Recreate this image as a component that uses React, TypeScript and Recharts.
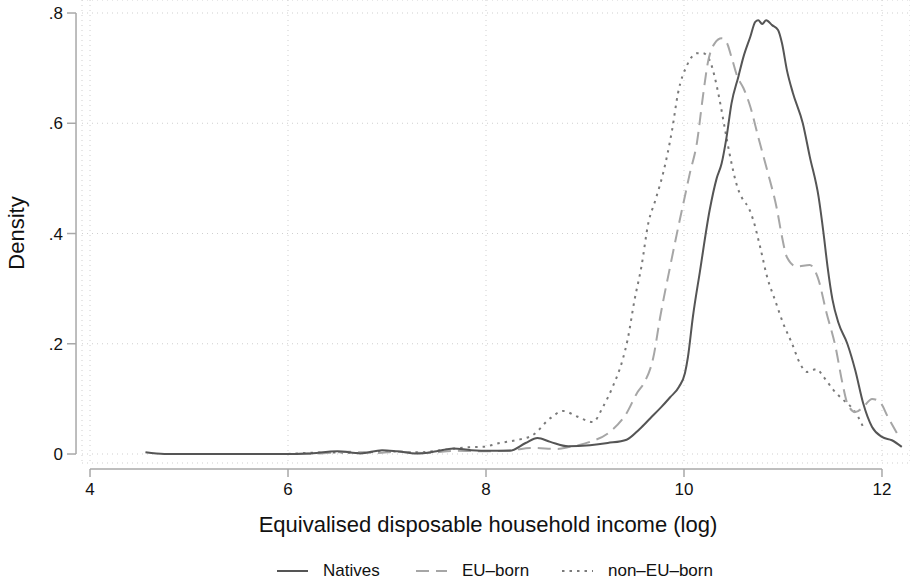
import React from 'react';
import { LineChart, Line, XAxis, YAxis, CartesianGrid, ReferenceLine } from 'recharts';

// kernel density estimates as [log income, density]
const natives: [number, number][] = [
  [4.56, 0.003], [4.75, 0.0], [5.0, 0.0], [5.5, 0.0], [6.0, 0.0], [6.2, 0.001], [6.5, 0.005],
  [6.73, 0.001], [6.95, 0.007], [7.1, 0.005], [7.3, 0.001], [7.5, 0.005], [7.67, 0.01],
  [7.85, 0.007], [8.05, 0.006], [8.24, 0.006], [8.4, 0.02], [8.52, 0.029], [8.65, 0.022],
  [8.83, 0.014], [9.05, 0.016], [9.23, 0.02], [9.42, 0.026], [9.55, 0.045], [9.66, 0.065],
  [9.77, 0.085], [9.86, 0.103], [9.95, 0.122], [10.01, 0.147], [10.04, 0.176], [10.09, 0.249],
  [10.16, 0.33], [10.26, 0.443], [10.33, 0.5], [10.38, 0.527], [10.43, 0.575], [10.48, 0.636],
  [10.55, 0.685], [10.6, 0.72], [10.67, 0.757], [10.72, 0.784], [10.75, 0.787], [10.79, 0.78],
  [10.83, 0.787], [10.89, 0.778], [10.95, 0.769], [10.99, 0.745], [11.04, 0.696], [11.1, 0.655],
  [11.2, 0.6], [11.27, 0.54], [11.36, 0.466], [11.41, 0.4], [11.45, 0.34], [11.5, 0.28],
  [11.56, 0.238], [11.65, 0.2], [11.73, 0.152], [11.81, 0.092], [11.9, 0.049], [12.0, 0.031],
  [12.1, 0.025], [12.2, 0.013],
];

const euBorn: [number, number][] = [
  [5.9, 0.0], [6.3, 0.001], [6.6, 0.004], [6.9, 0.002], [7.1, 0.004], [7.4, 0.002], [7.7, 0.006],
  [8.0, 0.005], [8.25, 0.007], [8.47, 0.011], [8.72, 0.009], [8.85, 0.013], [9.05, 0.022],
  [9.25, 0.04], [9.42, 0.074], [9.53, 0.112], [9.6, 0.13], [9.69, 0.175], [9.76, 0.249],
  [9.86, 0.34], [9.94, 0.41], [10.0, 0.46], [10.06, 0.51], [10.13, 0.564], [10.19, 0.647],
  [10.24, 0.709], [10.31, 0.745], [10.38, 0.754], [10.43, 0.747], [10.48, 0.72], [10.54, 0.684],
  [10.6, 0.664], [10.67, 0.63], [10.75, 0.575], [10.84, 0.515], [10.94, 0.443], [10.99, 0.394],
  [11.04, 0.357], [11.14, 0.34], [11.27, 0.343], [11.35, 0.321], [11.44, 0.256], [11.53, 0.195],
  [11.6, 0.129], [11.65, 0.092], [11.73, 0.076], [11.81, 0.085], [11.9, 0.1], [11.98, 0.094],
  [12.06, 0.067], [12.15, 0.038],
];

const nonEuBorn: [number, number][] = [
  [6.0, 0.0], [6.4, 0.003], [6.7, 0.002], [7.0, 0.005], [7.3, 0.003], [7.6, 0.008], [7.8, 0.012],
  [7.97, 0.013], [8.14, 0.02], [8.3, 0.025], [8.47, 0.034], [8.65, 0.065], [8.78, 0.078],
  [8.92, 0.068], [9.08, 0.058], [9.18, 0.085], [9.28, 0.122], [9.38, 0.171], [9.43, 0.207],
  [9.5, 0.279], [9.57, 0.34], [9.64, 0.419], [9.71, 0.46], [9.79, 0.51], [9.88, 0.588],
  [9.94, 0.655], [10.03, 0.705], [10.13, 0.727], [10.19, 0.727], [10.26, 0.714], [10.31, 0.684],
  [10.36, 0.642], [10.41, 0.593], [10.46, 0.545], [10.54, 0.484], [10.6, 0.46], [10.65, 0.448],
  [10.7, 0.424], [10.77, 0.375], [10.84, 0.321], [10.92, 0.279], [11.0, 0.238], [11.09, 0.201],
  [11.17, 0.165], [11.24, 0.149], [11.34, 0.154], [11.41, 0.14], [11.51, 0.116], [11.61, 0.098],
  [11.7, 0.083], [11.76, 0.067], [11.82, 0.045],
];

const xTicks = [4, 6, 8, 10, 12];
const yTicks = [0, 0.2, 0.4, 0.6, 0.8];

const FONT = '"Liberation Sans", Arial, Helvetica, sans-serif';
const AXIS = '#a8a8a8';
const GRID = '#cfcfcf';
const C_NAT = '#555555';
const C_EU = '#a6a6a6';
const C_NON = '#7a7a7a';
const DASH_EU = '13 7';
const DASH_NON = '2.5 5';

const X_MIN = 3.919;
const Y_AXIS_X = 3.8586; // the y axis line sits a little left of the plot

const toRows = (pts: [number, number][]) => pts.map(([x, y]) => ({ x, y }));

const fmtY = (v: number) => (v === 0 ? '0' : v.toFixed(1).replace(/^0/, ''));

const XTick = ({ x, y, payload }: any) => (
  <g>
    <line x1={x} x2={x} y1={y + 6} y2={y + 14} stroke={AXIS} strokeWidth={1.5} />
    <text x={x} y={y + 32} textAnchor="middle" fontSize={17} fill="#111" fontFamily={FONT}>
      {payload.value}
    </text>
  </g>
);

const YTick = ({ x, y, payload }: any) => (
  <g>
    <line x1={x - 15} x2={x - 6} y1={y} y2={y} stroke={AXIS} strokeWidth={1.5} />
    <text x={x - 19} y={y + 6} textAnchor="end" fontSize={17} fill="#111" fontFamily={FONT}>
      {fmtY(payload.value)}
    </text>
  </g>
);

const legendItems = [
  { name: 'Natives', color: C_NAT, dash: undefined, left: 277 },
  { name: 'EU\u2013born', color: C_EU, dash: DASH_EU, left: 416 },
  { name: 'non\u2013EU\u2013born', color: C_NON, dash: DASH_NON, left: 562 },
];

export default function App() {
  return (
    <div style={{ position: 'absolute', left: 0, top: 0, width: 910, height: 585, background: '#fff', fontFamily: FONT }}>
      <LineChart width={910} height={585} margin={{ top: 0, right: 0, bottom: 0, left: 0 }}>
        <CartesianGrid stroke={GRID} strokeDasharray="1 4" />
        <XAxis
          type="number"
          dataKey="x"
          domain={[X_MIN, 12.283]}
          ticks={xTicks}
          allowDataOverflow
          height={122}
          axisLine={false}
          tickLine={false}
          tickSize={0}
          tickMargin={0}
          tick={<XTick />}
        />
        <YAxis
          type="number"
          domain={[-0.0163, 0.8236]}
          ticks={yTicks}
          allowDataOverflow
          width={82}
          axisLine={false}
          tickLine={false}
          tickSize={0}
          tickMargin={0}
          tick={<YTick />}
        />
        <ReferenceLine
          segment={[{ x: 4, y: -0.0272 }, { x: 12, y: -0.0272 }]}
          stroke={AXIS}
          strokeWidth={1.5}
          ifOverflow="visible"
        />
        <ReferenceLine
          segment={[{ x: Y_AXIS_X, y: 0 }, { x: Y_AXIS_X, y: 0.8 }]}
          stroke={AXIS}
          strokeWidth={1.5}
          ifOverflow="visible"
        />
        <Line data={toRows(nonEuBorn)} dataKey="y" type="monotone" dot={false} stroke={C_NON} strokeWidth={2} strokeDasharray={DASH_NON} isAnimationActive={false} />
        <Line data={toRows(euBorn)} dataKey="y" type="monotone" dot={false} stroke={C_EU} strokeWidth={2} strokeDasharray={DASH_EU} isAnimationActive={false} />
        <Line data={toRows(natives)} dataKey="y" type="monotone" dot={false} stroke={C_NAT} strokeWidth={2} isAnimationActive={false} />
      </LineChart>

      <div
        style={{
          position: 'absolute', left: 17, top: 233, transform: 'translate(-50%, -50%) rotate(-90deg)',
          fontSize: 22, lineHeight: '22px', whiteSpace: 'nowrap', color: '#111',
        }}
      >
        Density
      </div>
      <div
        style={{
          position: 'absolute', left: 488, top: 514, transform: 'translateX(-50%)',
          fontSize: 22, lineHeight: '22px', whiteSpace: 'nowrap', color: '#111',
        }}
      >
        Equivalised disposable household income (log)
      </div>

      {legendItems.map(item => (
        <div key={item.name} style={{ position: 'absolute', left: item.left, top: 561, height: 20, display: 'flex', alignItems: 'center' }}>
          <svg width={31} height={20}>
            <line x1={0} x2={31} y1={10} y2={10} stroke={item.color} strokeWidth={2} strokeDasharray={item.dash} />
          </svg>
          <span style={{ marginLeft: 15, fontSize: 17, lineHeight: '20px', color: '#111' }}>{item.name}</span>
        </div>
      ))}
    </div>
  );
}
